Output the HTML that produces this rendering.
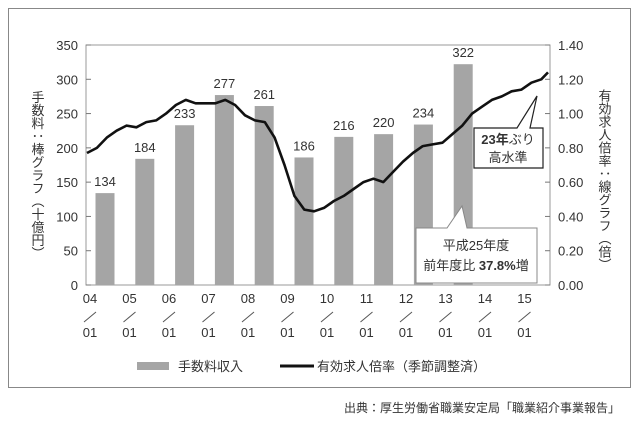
<!DOCTYPE html>
<html><head><meta charset="utf-8"><style>
body{margin:0;background:#fff;}
svg text{font-family:"Liberation Sans","Noto Sans CJK JP",sans-serif;fill:#333;}
</style></head><body>
<svg id="c" width="640" height="421" viewBox="0 0 640 421" xmlns="http://www.w3.org/2000/svg">
<rect x="8.5" y="8.5" width="622" height="379" fill="none" stroke="#888"/>
<g id="plot"></g>
<text x="37" y="175" font-size="13" writing-mode="vertical-rl" text-anchor="middle">手数料：棒グラフ（十億円）</text>
<text x="604" y="180" font-size="13" writing-mode="vertical-rl" text-anchor="middle">有効求人倍率：線グラフ（倍）</text>
<g>
<path d="M474,128 L517,128 L537,96 L530,128 L543,128 L543,168 L474,168 Z" fill="#fff" stroke="#222" stroke-width="1.2"/>
<text x="508" y="144" font-size="13" text-anchor="middle"><tspan font-weight="bold">23年</tspan>ぶり</text>
<text x="508" y="162" font-size="13" text-anchor="middle">高水準</text>
</g>
<g>
<path d="M416,228 L447,228 L462,206 L467,228 L537,228 L537,283 L416,283 Z" fill="#fff" stroke="#888" stroke-width="1"/>
<text x="476" y="250" font-size="13" text-anchor="middle">平成25年度</text>
<text x="476" y="270" font-size="13" text-anchor="middle">前年度比 <tspan font-weight="bold">37.8%</tspan>増</text>
</g>
<g>
<rect x="137" y="362" width="32" height="8" fill="#a5a5a5"/>
<text x="178" y="371" font-size="13">手数料収入</text>
<line x1="280" y1="366" x2="314" y2="366" stroke="#111" stroke-width="3"/>
<text x="317" y="371" font-size="13">有効求人倍率（季節調整済）</text>
</g>
<text x="620" y="412" font-size="12" text-anchor="end">出典：厚生労働省職業安定局「職業紹介事業報告」</text>
</svg>
<script>
const barCategories=["FY2004","FY2005","FY2006","FY2007","FY2008","FY2009","FY2010","FY2011","FY2012","FY2013"];
const barValues=[134,184,233,277,261,186,216,220,234,322];
const leftTicks=[0,50,100,150,200,250,300,350];
const rightTicks=["0.00","0.20","0.40","0.60","0.80","1.00","1.20","1.40"];
const xTickYears=["04","05","06","07","08","09","10","11","12","13","14","15"];
const lineTimes=[2004,2004.25,2004.5,2004.75,2005,2005.25,2005.5,2005.75,2006,2006.25,2006.5,2006.75,2007,2007.25,2007.5,2007.75,2008,2008.25,2008.5,2008.75,2009,2009.25,2009.5,2009.75,2010,2010.25,2010.5,2010.75,2011,2011.25,2011.5,2011.75,2012,2012.25,2012.5,2012.75,2013,2013.25,2013.5,2013.75,2014,2014.25,2014.5,2014.75,2015,2015.25,2015.5,2015.67];
const lineValues=[0.77,0.80,0.86,0.90,0.93,0.92,0.95,0.96,1.00,1.05,1.08,1.06,1.06,1.06,1.08,1.05,0.99,0.96,0.95,0.86,0.70,0.52,0.44,0.43,0.45,0.49,0.52,0.56,0.60,0.62,0.60,0.66,0.72,0.77,0.81,0.82,0.83,0.88,0.93,1.00,1.04,1.08,1.10,1.13,1.14,1.18,1.20,1.24];
const NS="http://www.w3.org/2000/svg";
const L=86,R=550,T=45,B=285;
const yL=v=>B-(v/350)*(B-T);
const yR=v=>B-(v/1.4)*(B-T);
const xT=t=>87+(t-2004)*39.5;
const xBar=i=>105+i*39.8;
const g=document.getElementById('plot');
function mk(tag,attrs){const e=document.createElementNS(NS,tag);for(const k in attrs)e.setAttribute(k,attrs[k]);g.appendChild(e);return e;}
let fr=mk('rect',{x:L,y:T,width:R-L,height:B-T,fill:'none',stroke:'#999','stroke-width':1});


leftTicks.forEach(v=>{
  let t=mk('text',{x:L-8,y:yL(v)+5,'font-size':13,'text-anchor':'end'});t.textContent=v;
  
  
  mk('line',{x1:L,x2:L+5,y1:yL(v),y2:yL(v),stroke:'#777'});
});
rightTicks.forEach(s=>{
  let t=mk('text',{x:R+8,y:yR(parseFloat(s))+5,'font-size':13});t.textContent=s;
  
  
  mk('line',{x1:R-5,x2:R,y1:yR(parseFloat(s)),y2:yR(parseFloat(s)),stroke:'#777'});
});
xTickYears.forEach((s,i)=>{
  const x=xT(2004+i);
  let a=mk('text',{x:x+3,y:303,'font-size':13,'text-anchor':'middle'});a.textContent=s;
  
  
  mk('line',{x1:x-3,y1:322,x2:x+9,y2:312,stroke:'#555'});
  let b=mk('text',{x:x+3,y:337,'font-size':13,'text-anchor':'middle'});b.textContent='01';
  
  
});
barValues.forEach((v,i)=>{
  let r=mk('rect',{x:xBar(i)-9.5,y:yL(v),width:19,height:B-yL(v),fill:'#a5a5a5'});
  
  
  let t=mk('text',{x:xBar(i),y:yL(v)-7,'font-size':13,'text-anchor':'middle'});t.textContent=v;
  
  
});
let d=lineValues.map((v,i)=>(i?'L':'M')+xT(lineTimes[i]).toFixed(1)+','+yR(v).toFixed(1)).join(' ');
let p=mk('path',{d:d,fill:'none',stroke:'#111','stroke-width':2.6,'stroke-linejoin':'round'});


</script>
</body></html>
